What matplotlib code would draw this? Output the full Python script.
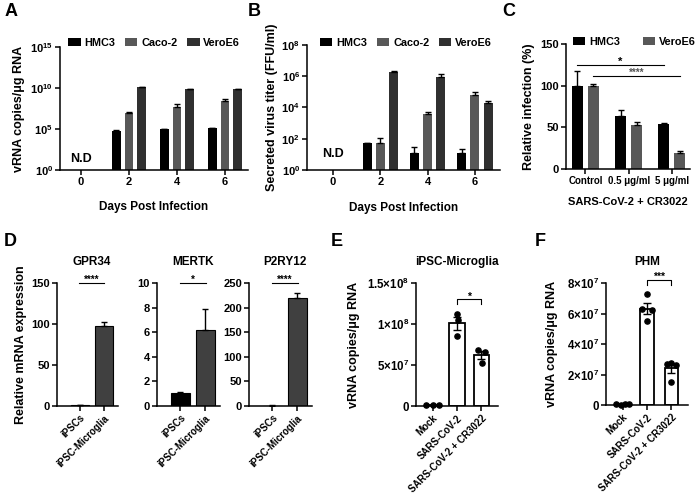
import numpy as np
import matplotlib
matplotlib.use('Agg')
import matplotlib.pyplot as plt
from matplotlib.ticker import NullLocator

plt.rcParams['font.family'] = ['Liberation Sans', 'DejaVu Sans']
plt.rcParams['font.weight'] = 'bold'
plt.rcParams['axes.labelweight'] = 'bold'
plt.rcParams['mathtext.fontset'] = 'custom'
plt.rcParams['mathtext.rm'] = 'Liberation Sans:bold'
plt.rcParams['mathtext.it'] = 'Liberation Sans:bold'
plt.rcParams['mathtext.bf'] = 'Liberation Sans:bold'
plt.rcParams['mathtext.default'] = 'rm'
plt.rcParams['axes.linewidth'] = 1.1

nan = np.nan

# ---- A: vRNA copies in cell lines ----
days = ['0', '2', '4', '6']
a_hmc3 = [nan, 5.8e4, 1.0e5, 1.4e5]
a_hmc3_err = [nan, 8e3, 1e4, 1.2e4]
a_caco2 = [nan, 8e6, 5.2e7, 2.6e8]
a_caco2_err = [nan, 3e6, 5e7, 2.6e8]
a_vero = [nan, 1.2e10, 7e9, 7.5e9]
a_vero_err = [nan, 1.2e9, 8e8, 6e8]

# ---- B: secreted virus titer ----
b_hmc3 = [nan, 51, 13, 13]
b_hmc3_err = [nan, 6, 15, 8]
b_caco2 = [nan, 51, 3700, 62000]
b_caco2_err = [nan, 56, 1300, 33000]
b_vero = [nan, 1.75e6, 9.1e5, 1.9e4]
b_vero_err = [nan, 3.5e5, 5e5, 7e3]

# ---- C: CR3022 neutralisation ----
c_groups = ['Control', '0.5 \u03bcg/ml', '5 \u03bcg/ml']
c_hmc3 = [100, 64, 54]
c_hmc3_err = [17, 7, 1]
c_vero = [100, 53, 19]
c_vero_err = [2.5, 3, 2]

# ---- D: microglia markers ----
d_cells = ['iPSCs', 'iPSC-Microglia']
d_genes = ['GPR34', 'MERTK', 'P2RY12']
d_means = [[1, 97], [1.05, 6.15], [1, 219]]
d_errs = [[0.3, 6], [0.07, 1.75], [0.2, 10]]
d_ymax = [150, 10, 250]
d_ystep = [50, 2, 50]
d_stars = ['****', '*', '****']

# ---- E / F: infection of microglia ----
ef_groups = ['Mock', 'SARS-CoV-2', 'SARS-CoV-2 + CR3022']
e_points = [[1.2e6, 0.8e6, 1.0e6], [1.12e8, 1.05e8, 0.85e8], [6.8e7, 6.55e7, 5.25e7]]
f_points = [[0.5e6, 0.3e6, 0.6e6, 0.4e6], [7.3e7, 6.3e7, 6.2e7, 5.5e7],
            [2.7e7, 2.75e7, 2.65e7, 1.5e7]]

W, H = 696, 498
fig = plt.figure(figsize=(W / 100, H / 100), dpi=100)


def px_axes(l, t, r, b):
    return fig.add_axes([l / W, 1 - b / H, (r - l) / W, (b - t) / H])


def style(ax, lsize=8):
    for s in ['top', 'right']:
        ax.spines[s].set_visible(False)
    ax.tick_params(direction='out', length=3.5, width=1.1, labelsize=lsize, pad=1.5)
    for t in ax.get_xticklabels() + ax.get_yticklabels():
        t.set_fontweight('bold')


def sup(base, exp):
    return r'$%s10^{%s}$' % (base, exp)


err_kw = dict(ecolor='black', elinewidth=1.0, capsize=2, capthick=1.0)
leg_kw = dict(loc='center left', frameon=False, borderaxespad=0, borderpad=0,
              handlelength=1.15, handleheight=0.75, handletextpad=0.35,
              prop={'size': 7.8, 'weight': 'bold'})

# ---------- A ----------
axA = px_axes(60, 47, 248, 170)
x = np.arange(len(days))
for vals, errs, off, col, lab in [(a_hmc3, a_hmc3_err, -0.265, '#000000', 'HMC3'),
                                  (a_caco2, a_caco2_err, 0.0, '#585858', 'Caco-2'),
                                  (a_vero, a_vero_err, 0.265, '#303030', 'VeroE6')]:
    axA.bar(x + off, vals, width=0.18, color=col, label=lab, log=True,
            yerr=[np.zeros(len(vals)), errs], error_kw=err_kw)
axA.set_yscale('log')
axA.set_ylim(1, 1e15)
axA.set_xlim(-0.44, 3.48)
axA.set_yticks([1, 1e5, 1e10, 1e15])
axA.set_yticklabels([sup('', e) for e in ['0', '5', '10', '15']])
axA.yaxis.set_minor_locator(NullLocator())
axA.set_xticks(x)
axA.set_xticklabels(days)
style(axA)
axA.text(0, 22, 'N.D', ha='center', va='center', fontsize=9, fontweight='bold')
axA.set_ylabel('vRNA copies/\u03bcg RNA', fontsize=9)
axA.yaxis.set_label_coords(-0.186, 0.5)
axA.set_xlabel('Days Post Infection', fontsize=8.5)
axA.xaxis.set_label_coords(0.5, -0.252)
axA.legend(bbox_to_anchor=(0.043, 1.033), ncol=3, columnspacing=0.9, **leg_kw)

# ---------- B ----------
axB = px_axes(307, 45, 500, 170)
for vals, errs, off, col, lab in [(b_hmc3, b_hmc3_err, -0.28, '#000000', 'HMC3'),
                                  (b_caco2, b_caco2_err, 0.0, '#585858', 'Caco-2'),
                                  (b_vero, b_vero_err, 0.28, '#303030', 'VeroE6')]:
    axB.bar(x + off, vals, width=0.19, color=col, label=lab, log=True,
            yerr=[np.zeros(len(vals)), errs], error_kw=err_kw)
axB.set_yscale('log')
axB.set_ylim(1, 1e8)
axB.set_xlim(-0.55, 3.53)
axB.set_yticks([1, 1e2, 1e4, 1e6, 1e8])
axB.set_yticklabels([sup('', e) for e in ['0', '2', '4', '6', '8']])
axB.yaxis.set_minor_locator(NullLocator())
axB.set_xticks(x)
axB.set_xticklabels(days)
style(axB)
axB.text(0, 10, 'N.D', ha='center', va='center', fontsize=9, fontweight='bold')
axB.set_ylabel('Secreted virus titer (FFU/ml)', fontsize=9)
axB.yaxis.set_label_coords(-0.15, 0.5)
axB.set_xlabel('Days Post Infection', fontsize=8.5)
axB.xaxis.set_label_coords(0.5, -0.256)
axB.legend(bbox_to_anchor=(0.067, 1.016), ncol=3, columnspacing=0.9, **leg_kw)

# ---------- C ----------
axC = px_axes(566, 44, 690, 169)
xc = np.arange(len(c_groups))
for vals, errs, off, col, lab in [(c_hmc3, c_hmc3_err, -0.185, '#000000', 'HMC3'),
                                  (c_vero, c_vero_err, 0.185, '#585858', 'VeroE6')]:
    axC.bar(xc + off, vals, width=0.26, color=col, label=lab,
            yerr=[np.zeros(len(vals)), errs], error_kw=err_kw)
axC.set_ylim(0, 150)
axC.set_xlim(-0.45, 2.42)
axC.set_yticks([0, 50, 100, 150])
axC.set_xticks(xc)
axC.set_xticklabels(c_groups)
style(axC)
axC.tick_params(axis='x', labelsize=7)
axC.plot([-0.185, 1.815], [125, 125], color='black', lw=0.8)
axC.text(0.815, 125, '*', ha='center', va='baseline', fontsize=8, fontweight='bold')
axC.plot([0.185, 2.185], [112, 112], color='black', lw=0.8)
axC.text(1.185, 112, '****', ha='center', va='baseline', fontsize=7, color='#555555')
axC.set_ylabel('Relative infection (%)', fontsize=9)
axC.yaxis.set_label_coords(-0.25, 0.5)
axC.set_xlabel('SARS-CoV-2 + CR3022', fontsize=8)
axC.xaxis.set_label_coords(0.5, -0.224)
axC.legend(bbox_to_anchor=(0.056, 1.016), ncol=2, columnspacing=2.1, **leg_kw)

# ---------- D ----------
d_boxes = [(57, 118), (157, 220), (249, 312)]
xd = np.arange(len(d_cells))
for i, (l, r) in enumerate(d_boxes):
    ax = px_axes(l, 283, r, 406)
    ax.bar(xd, d_means[i], width=0.76, color=['#000000', '#404040'],
           edgecolor='black', linewidth=0.8,
           yerr=[np.zeros(2), d_errs[i]], error_kw=err_kw)
    ax.set_ylim(0, d_ymax[i])
    ax.set_xlim(-0.95, 1.6)
    ax.set_yticks(np.arange(0, d_ymax[i] + 1e-9, d_ystep[i]))
    ax.set_xticks(xd)
    ax.set_xticklabels(d_cells, rotation=45, ha='right', rotation_mode='anchor')
    style(ax)
    ax.tick_params(axis='x', labelsize=7)
    ax.plot([-0.02, 1.02], [d_ymax[i]] * 2, color='black', lw=0.8, clip_on=False)
    ax.text(0.5, d_ymax[i], d_stars[i], ha='center', va='baseline', fontsize=7,
            fontweight='bold')
    ax.text(0.5, 1.17, d_genes[i], transform=ax.get_xaxis_transform(),
            ha='center', va='center', fontsize=8.5, fontweight='bold')
    if i == 0:
        ax.set_ylabel('Relative mRNA expression', fontsize=9)
        ax.yaxis.set_label_coords(-0.49, 0.5)

# ---------- E / F ----------
jit3 = [[-0.25, 0.0, 0.25], [0.0, 0.05, 0.0], [-0.12, 0.14, 0.02]]
jit4 = [[-0.25, -0.08, 0.08, 0.25], [0.0, -0.22, 0.22, 0.0], [-0.2, 0.0, 0.2, 0.0]]


def scatter_bars(ax, pts, jit, ymax, yticks, ylabels, title, stars, bracket, width):
    xs = np.arange(len(ef_groups))
    means = [np.mean(p) for p in pts]
    sems = [np.std(p, ddof=1) / np.sqrt(len(p)) for p in pts]
    ax.bar(xs, means, width=width, color='white', edgecolor='black', linewidth=1.3,
           yerr=sems, error_kw=dict(ecolor='black', elinewidth=1.0, capsize=3, capthick=1.0))
    for i, p in enumerate(pts):
        ax.scatter(xs[i] + np.array(jit[i]), p, s=14, color='black', zorder=3, clip_on=False)
    ax.set_ylim(0, ymax)
    ax.set_xlim(-0.68, 2.68)
    ax.set_yticks(yticks)
    ax.set_yticklabels(ylabels)
    ax.set_xticks(xs)
    ax.set_xticklabels(ef_groups, rotation=45, ha='right', rotation_mode='anchor')
    style(ax, 8.3)
    ax.tick_params(axis='x', labelsize=7)
    top, leg = bracket
    ax.plot([1, 1, 2, 2], [leg, top, top, leg], color='black', lw=0.8, clip_on=False)
    ax.text(1.5, top, stars, ha='center', va='baseline', fontsize=7.5, fontweight='bold')
    ax.text(0.5, 1.17, title, transform=ax.transAxes, ha='center', va='center',
            fontsize=8.5, fontweight='bold')
    ax.set_ylabel('vRNA copies/\u03bcg RNA', fontsize=9)


axE = px_axes(416, 283, 498, 406)
scatter_bars(axE, e_points, jit3, 1.5e8, [0, 5e7, 1e8, 1.5e8],
             ['0', sup('5{\\times}', '7'), sup('1{\\times}', '8'), sup('1.5{\\times}', '8')],
             'iPSC-Microglia', '*', (1.3e8, 1.24e8), 0.62)
axE.yaxis.set_label_coords(-0.68, 0.5)

axF = px_axes(606, 283, 688, 405)
scatter_bars(axF, f_points, jit4, 8e7, [0, 2e7, 4e7, 6e7, 8e7],
             ['0'] + [sup('%d{\\times}' % v, '7') for v in [2, 4, 6, 8]],
             'PHM', '***', (8.2e7, 7.85e7), 0.55)
axF.yaxis.set_label_coords(-0.585, 0.5)

# panel letters
for lab, px, py in [('A', 11, 12), ('B', 254, 12), ('C', 509, 12),
                    ('D', 10, 241), ('E', 337, 241), ('F', 540, 241)]:
    fig.text(px / W, 1 - py / H, lab, ha='center', va='center', fontsize=13, fontweight='bold')

fig.savefig('out.png', dpi=100)
